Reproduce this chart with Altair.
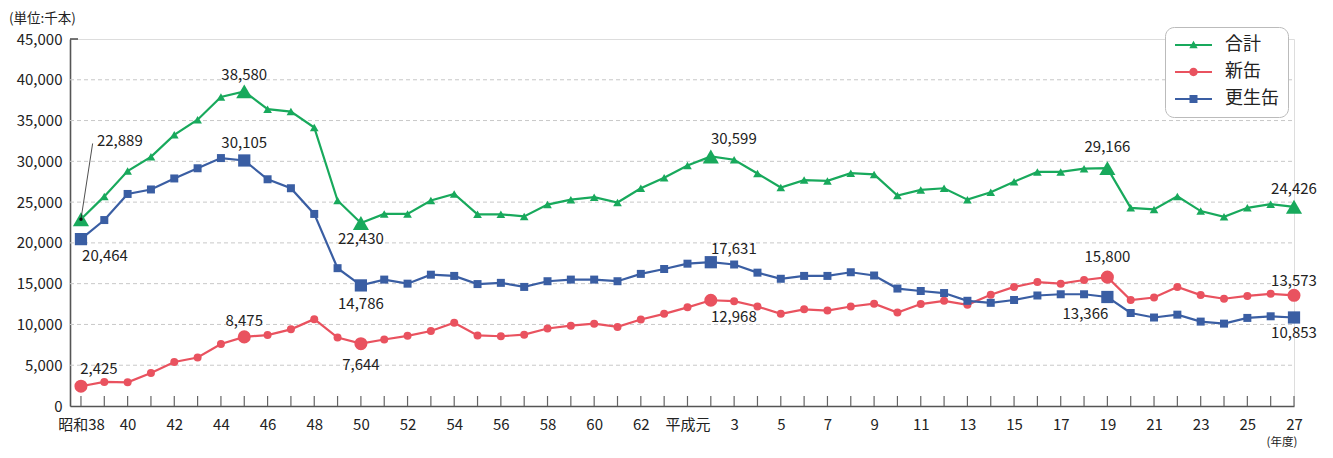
import altair as alt
import pandas as pd

FONT = "Noto Sans CJK JP"

tick_labels = ["昭和38", "40", "42", "44", "46", "48", "50", "52", "54", "56", "58", "60", "62",
               "平成元", "3", "5", "7", "9", "11", "13", "15", "17", "19", "21", "23", "25", "27"]

series_names = ["合計", "新缶", "更生缶"]

total = [22889, 25700, 28800, 30550, 33250, 35100, 37900, 38580, 36400, 36100,
         34150, 25200, 22430, 23550, 23550, 25200, 26000, 23500, 23500, 23250,
         24700, 25300, 25600, 24950, 26700, 28000, 29500, 30599, 30200, 28500,
         26800, 27700, 27600, 28550, 28400, 25800, 26500, 26700, 25300, 26200,
         27500, 28700, 28700, 29100, 29166, 24300, 24100, 25700, 23900, 23200,
         24300, 24750, 24426]

new_can = [2425, 2950, 2900, 4050, 5400, 5950, 7600, 8475, 8700, 9400,
           10650, 8400, 7644, 8150, 8600, 9200, 10200, 8650, 8550, 8750,
           9500, 9850, 10100, 9700, 10600, 11300, 12100, 12968, 12850, 12200,
           11300, 11850, 11700, 12200, 12550, 11450, 12500, 12900, 12400, 13650,
           14600, 15200, 15000, 15450, 15800, 13000, 13300, 14600, 13600, 13150,
           13500, 13750, 13573]

recycled = [20464, 22800, 26000, 26550, 27900, 29150, 30400, 30105, 27800, 26700,
            23550, 16900, 14786, 15500, 15000, 16100, 15950, 14950, 15100, 14600,
            15300, 15500, 15500, 15300, 16200, 16800, 17450, 17631, 17350, 16350,
            15600, 15950, 15950, 16400, 16000, 14400, 14100, 13850, 12900, 12650,
            13000, 13550, 13700, 13700, 13366, 11400, 10850, 11200, 10350, 10100,
            10800, 11000, 10853]

highlight_idx = [0, 7, 12, 27, 44, 52]
y_ticks = [0, 5000, 10000, 15000, 20000, 25000, 30000, 35000, 40000, 45000]
grid_vals = [5000, 10000, 15000, 20000, 25000, 30000, 35000, 40000]

colors = ["#18a95c", "#e9525f", "#3a5ea3"]
shapes = ["triangle-up", "circle", "square"]
small_sizes = [75, 64, 64]
big_sizes = [260, 170, 150]

# legend symbols: line + marker (custom paths, 1 unit = 7px, shifted right by 1.5 units)
legend_paths = [
    "M-1.14,-0.13H4.14V0.13H-1.14Z M1.5,-0.6L2.1,0.45L0.9,0.45Z",
    "M-1.14,-0.13H4.14V0.13H-1.14Z M2.1,0A0.6,0.6 0 1,1 0.9,0A0.6,0.6 0 1,1 2.1,0Z",
    "M-1.14,-0.13H4.14V0.13H-1.14Z M0.93,-0.57H2.07V0.57H0.93Z",
]

rows = []
for name, vals in zip(series_names, [total, new_can, recycled]):
    for i, v in enumerate(vals):
        rows.append({"series": name, "i": i, "value": v, "hl": i in highlight_idx})
df = pd.DataFrame(rows)

W, H = 1224, 367

label_expr = "[" + ",".join("'%s'" % s for s in tick_labels) + "][datum.value / 2]"

x_enc = alt.X("i:Q",
              scale=alt.Scale(domain=[-0.47, 52], nice=False, zero=False),
              axis=alt.Axis(values=list(range(0, 53, 2)), labelExpr=label_expr,
                            ticks=False, grid=False, title=None,
                            domainColor="#555", domainWidth=1.6,
                            labelFont=FONT, labelFontSize=15, labelColor="#222",
                            labelPadding=11, labelOverlap=False, labelFlush=False))
y_enc = alt.Y("value:Q",
              scale=alt.Scale(domain=[0, 45000], nice=False),
              axis=alt.Axis(values=y_ticks, labelExpr="format(datum.value, ',')",
                            ticks=False, grid=False,
                            title=None, domainColor="#555", domainWidth=1.6,
                            labelFont=FONT, labelFontSize=15, labelColor="#222",
                            labelPadding=8))

layers = []

# gridlines
grid_df = pd.DataFrame({"value": grid_vals})
layers.append(alt.Chart(grid_df).mark_rule(color="#c8c8c8", strokeDash=[4, 3], strokeWidth=1)
              .encode(y=y_enc, x=alt.value(0), x2=alt.value(W)))

# top tick at 45,000
layers.append(alt.Chart(pd.DataFrame({"value": [45000]})).mark_rule(color="#555", strokeWidth=1.6)
              .encode(y=y_enc, x=alt.value(0), x2=alt.value(8)))

# x ticks (inside)
xt_df = pd.DataFrame({"i": list(range(len(total)))})
layers.append(alt.Chart(xt_df).mark_rule(color="#666", strokeWidth=1.2)
              .encode(x=x_enc, y=alt.value(H), y2=alt.value(H - 10)))

for name, col, shp, ss, bs in zip(series_names, colors, shapes, small_sizes, big_sizes):
    sdf = df[df.series == name]
    layers.append(alt.Chart(sdf).mark_line(color=col, strokeWidth=2.2).encode(x=x_enc, y=y_enc))
    layers.append(alt.Chart(sdf[~sdf.hl]).mark_point(shape=shp, filled=True, opacity=1,
                                                     color=col, size=ss).encode(x=x_enc, y=y_enc))
    layers.append(alt.Chart(sdf[sdf.hl]).mark_point(shape=shp, filled=True, opacity=1,
                                                    color=col, size=bs).encode(x=x_enc, y=y_enc))

# leader line for the first total label
lead = df[(df.series == "合計") & (df.i == 0)]
layers.append(alt.Chart(lead).transform_calculate(i2="datum.i + 0.5", v2="datum.value + 9300")
              .mark_rule(color="#222", strokeWidth=0.8)
              .encode(x=x_enc, y=y_enc, x2="i2:Q", y2="v2:Q"))
layers.append(alt.Chart(lead).mark_point(shape="circle", filled=True, color="#111", size=12, opacity=1)
              .encode(x=x_enc, y=y_enc))

# value labels (dx, dy, align)
label_place = {
    ("合計", 0): (16, -78, "left"),
    ("合計", 7): (0, -16, "center"),
    ("合計", 12): (0, 16, "center"),
    ("合計", 27): (23, -17, "center"),
    ("合計", 44): (0, -21, "center"),
    ("合計", 52): (0, -18, "center"),
    ("新缶", 0): (18, -17, "center"),
    ("新缶", 7): (0, -16, "center"),
    ("新缶", 12): (0, 21, "center"),
    ("新缶", 27): (23, 17, "center"),
    ("新缶", 44): (0, -20, "center"),
    ("新缶", 52): (0, -14, "center"),
    ("更生缶", 0): (24, 17, "center"),
    ("更生缶", 7): (0, -17, "center"),
    ("更生缶", 12): (0, 19, "center"),
    ("更生缶", 27): (23, -13, "center"),
    ("更生缶", 44): (-22, 17, "center"),
    ("更生缶", 52): (0, 16, "center"),
}
for (name, i), (dx, dy, al) in label_place.items():
    ldf = df[(df.series == name) & (df.i == i)]
    layers.append(alt.Chart(ldf).mark_text(dx=dx, dy=dy, align=al, baseline="middle",
                                           font=FONT, fontSize=15, color="#222")
                  .encode(x=x_enc, y=y_enc, text=alt.Text("value:Q", format=",")))

# legend-only layer
leg = alt.Legend(orient="none", legendX=1095, legendY=-12, title=None,
                 labelFont=FONT, labelFontSize=18, labelColor="#222",
                 symbolSize=196, symbolStrokeWidth=0, labelOffset=33,
                 rowPadding=9, padding=9, strokeColor="#bbbbbb", fillColor="white",
                 cornerRadius=9)
leg_df = pd.DataFrame({"series": series_names, "i": [None] * 3, "value": [None] * 3})
layers.append(alt.Chart(leg_df).mark_point(filled=True, opacity=1)
              .encode(x=x_enc, y=y_enc,
                      color=alt.Color("series:N", scale=alt.Scale(domain=series_names, range=colors),
                                      legend=leg),
                      shape=alt.Shape("series:N", scale=alt.Scale(domain=series_names, range=legend_paths),
                                      legend=leg)))

# unit and year annotations
layers.append(alt.Chart(pd.DataFrame({"t": ["(単位:千本)"]})).mark_text(
    align="left", baseline="middle", font=FONT, fontSize=13.5, color="#222")
    .encode(text="t:N", x=alt.value(-61), y=alt.value(-20)))
layers.append(alt.Chart(pd.DataFrame({"t": ["(年度)"]})).mark_text(
    align="center", baseline="middle", font=FONT, fontSize=11.5, color="#222")
    .encode(text="t:N", x=alt.value(W - 12), y=alt.value(H + 37)))

chart = alt.layer(*layers).properties(
    width=W, height=H,
    autosize=alt.AutoSizeParams(type="none"),
    padding={"left": 62, "top": 31, "right": 31, "bottom": 44},
).configure_view(stroke=None).configure(background="white")

chart.save("out.html", embed_options={"renderer": "svg", "actions": False})
